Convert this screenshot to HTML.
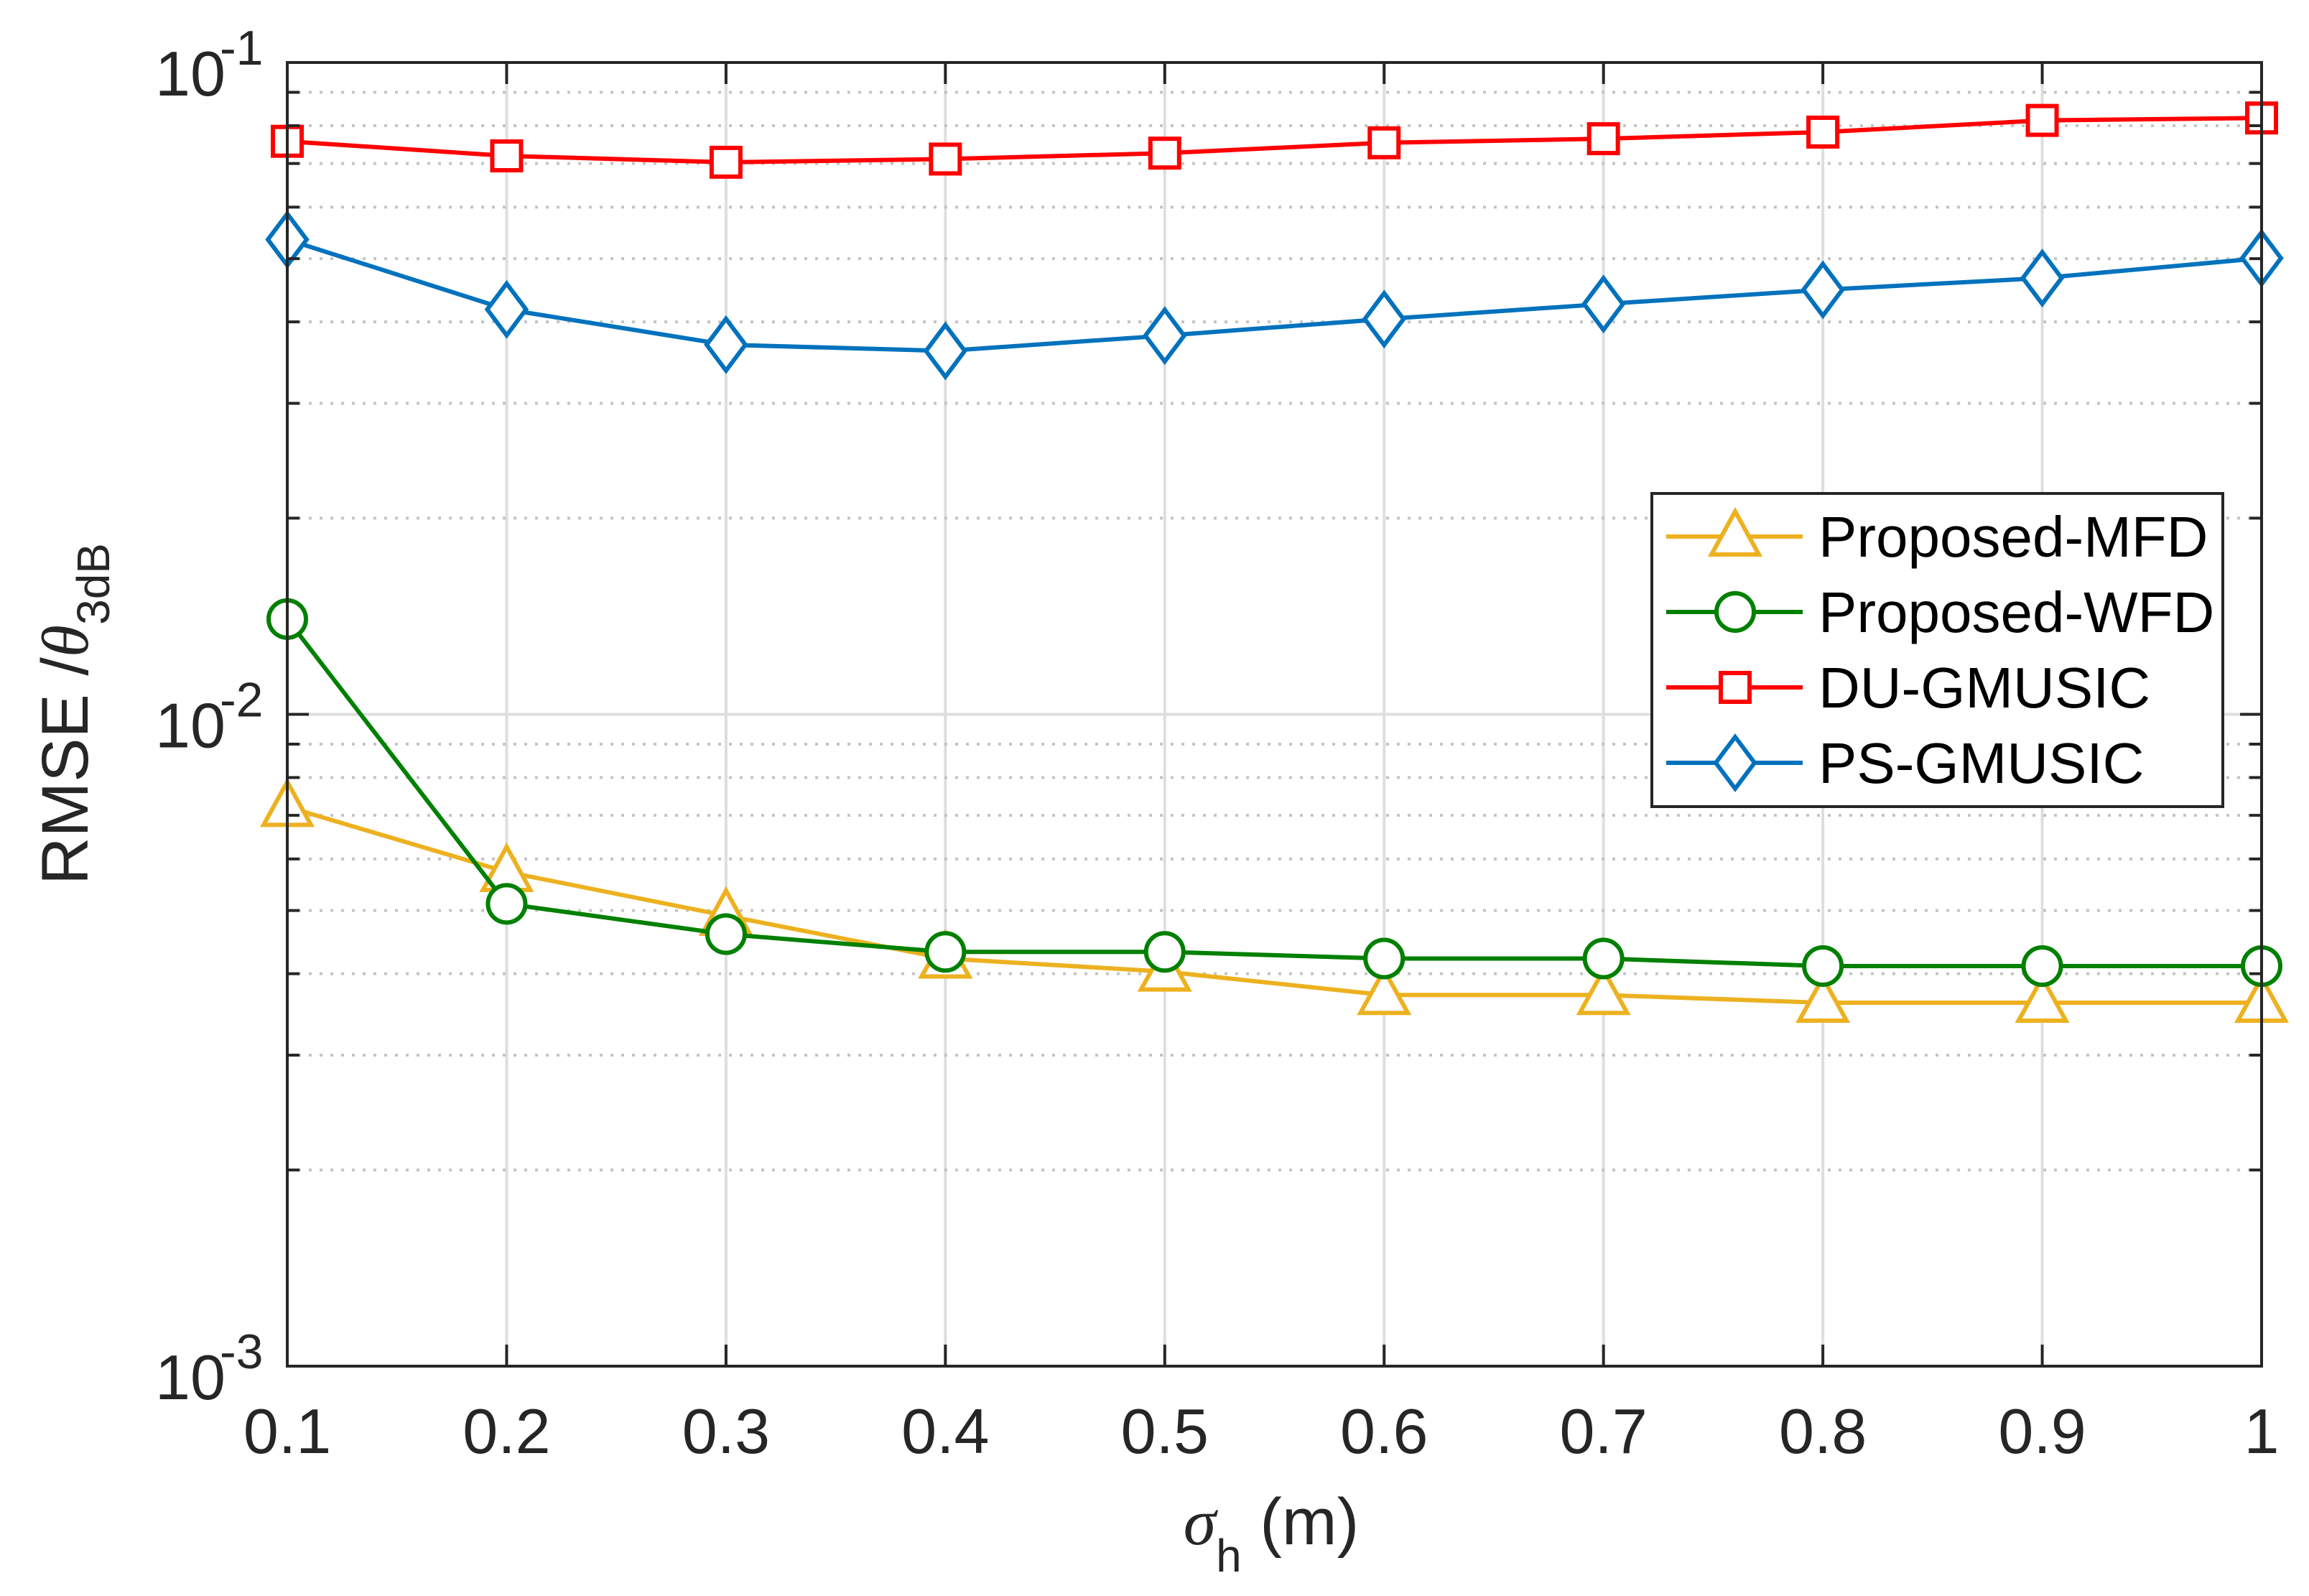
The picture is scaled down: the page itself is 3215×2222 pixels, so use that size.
<!DOCTYPE html>
<html><head><meta charset="utf-8"><style>
html,body{margin:0;padding:0;background:#fff;}
svg{display:block;font-family:"Liberation Sans",sans-serif;}
</style></head><body>
<svg id="chart" width="3215" height="2222" viewBox="0 0 3215 2222" xmlns="http://www.w3.org/2000/svg">
<rect x="0" y="0" width="3215" height="2222" fill="#fff"/>
<g id="grid"></g>
<g id="series"></g>
<g id="axes"></g>
<text x="1770" y="2150" font-size="92" text-anchor="middle" fill="#262626"><tspan font-family="Liberation Serif" font-style="italic">σ</tspan><tspan font-size="64" dy="38">h</tspan><tspan dy="-38"> (m)</tspan></text>
<text transform="translate(122,994) rotate(-90)" font-size="92" text-anchor="middle" fill="#262626">RMSE /<tspan font-family="Liberation Serif" font-style="italic">θ</tspan><tspan font-size="64" dy="30">3dB</tspan></text>
<g id="legend"></g>
</svg>
<script>
const xValues = [0.1,0.2,0.3,0.4,0.5,0.6,0.7,0.8,0.9,1.0];
const xTickLabels = ["0.1","0.2","0.3","0.4","0.5","0.6","0.7","0.8","0.9","1"];
const seriesNames = ["Proposed-MFD","Proposed-WFD","DU-GMUSIC","PS-GMUSIC"];
const mfdValues = [0.00721,0.00573,0.00491,0.00422,0.00403,0.00371,0.00371,0.00361,0.00361,0.00361];
const wfdValues = [0.0140,0.00512,0.00460,0.00432,0.00432,0.00422,0.00422,0.00411,0.00411,0.00411];
const duValues = [0.0757,0.0719,0.0703,0.0711,0.0726,0.0753,0.0764,0.0782,0.0815,0.0822];
const psValues = [0.0535,0.0418,0.0369,0.0361,0.0381,0.0404,0.0426,0.0448,0.0467,0.0501];
const yDecades = [-3,-2,-1];

const NS="http://www.w3.org/2000/svg";
const L=400,R=3149,T=87,B=1902;
const xMin=0.1,xMax=1.0,yLogMin=-3,yLogMax=-1;
function xs(v){return L+(v-xMin)/(xMax-xMin)*(R-L);}
function ys(v){return B-(Math.log10(v)-yLogMin)/(yLogMax-yLogMin)*(B-T);}
function mk(tag,attrs,parent){const e=document.createElementNS(NS,tag);for(const k in attrs)e.setAttribute(k,attrs[k]);parent.appendChild(e);return e;}

const grid=document.getElementById('grid'),axes=document.getElementById('axes'),ser=document.getElementById('series'),leg=document.getElementById('legend');
xValues.forEach((v,i)=>{
  const x=xs(v);
  if(i>0&&i<xValues.length-1){const g=mk('line',{x1:x,x2:x,y1:T,y2:B,stroke:'#dedede','stroke-width':4},grid);
  
  }
  const t1=mk('line',{x1:x,x2:x,y1:B,y2:B-30,stroke:'#262626','stroke-width':4},axes);
  
  
  const t2=mk('line',{x1:x,x2:x,y1:T,y2:T+30,stroke:'#262626','stroke-width':4},axes);
  
  
  const lb=mk('text',{x:x,y:2023,'font-size':88,'text-anchor':'middle',fill:'#262626'},axes);
  lb.textContent=xTickLabels[i];
  
  
});
yDecades.forEach((d,i)=>{
  const y=ys(Math.pow(10,d));
  if(d>yLogMin&&d<yLogMax){const g=mk('line',{x1:L,x2:R,y1:y,y2:y,stroke:'#dedede','stroke-width':4},grid);
  
  }
  [L,R].forEach(xx=>{const t=mk('line',{x1:xx,x2:xx+(xx==L?30:-30),y1:y,y2:y,stroke:'#262626','stroke-width':4},axes);
  
  });
  const lb=mk('text',{x:216,y:y+46,'font-size':88,fill:'#262626'},axes);
  lb.textContent='10';
  
  
  const sp=mk('text',{x:306,y:y+3,'font-size':68,fill:'#262626'},axes);
  sp.textContent=String(d);
  
  
  if(d<yLogMax){for(let m=2;m<=9;m++){const yy=ys(m*Math.pow(10,d));
    const g=mk('line',{x1:L,x2:R,y1:yy,y2:yy,stroke:'#c4c4c4','stroke-width':4,'stroke-dasharray':'4 11'},grid);
    
    
    [L,R].forEach(xx=>{const t=mk('line',{x1:xx,x2:xx+(xx==L?17:-17),y1:yy,y2:yy,stroke:'#262626','stroke-width':4},axes);
    
    });
  }}
});
const box=mk('rect',{x:L,y:T,width:R-L,height:B-T,fill:'none',stroke:'#262626','stroke-width':4},axes);



function marker(type,x,y,color,parent){
  let e;
  if(type==='tri') e=mk('polygon',{points:`${x},${y-35} ${x-33},${y+25} ${x+33},${y+25}`},parent);
  else if(type==='circ') e=mk('ellipse',{cx:x,cy:y,rx:26,ry:26},parent);
  else if(type==='sq') e=mk('rect',{x:x-20,y:y-20,width:40,height:40},parent);
  else e=mk('polygon',{points:`${x},${y-36} ${x+27},${y} ${x},${y+36} ${x-27},${y}`},parent);
  e.setAttribute('fill','#fff');e.setAttribute('stroke',color);e.setAttribute('stroke-width',6);
  return e;
}
const defs=[
  {vals:mfdValues,color:'#EDB120',m:'tri',name:'mfd'},
  {vals:wfdValues,color:'#008000',m:'circ',name:'wfd'},
  {vals:duValues,color:'#FF0000',m:'sq',name:'du-gmusic'},
  {vals:psValues,color:'#0072BD',m:'dia',name:'ps-gmusic'}
];
defs.forEach(s=>{
  const g=mk('g',{},ser);
  
  
  const pts=s.vals.map((v,i)=>xs(xValues[i])+','+ys(v)).join(' ');
  const pl=mk('polyline',{points:pts,fill:'none',stroke:s.color,'stroke-width':6},g);
  
  
  s.vals.forEach((v,i)=>{const e=marker(s.m,xs(xValues[i]),ys(v),s.color,g);
    
    });
});
const lb=mk('rect',{x:2300,y:687,width:795,height:436,fill:'#fff',stroke:'#262626','stroke-width':4},leg);


const rowY=[747,852,957,1062];
defs.forEach((s,i)=>{
  const g=mk('g',{},leg);
  
  
  const y=rowY[i];
  mk('line',{x1:2320,x2:2510,y1:y,y2:y,stroke:s.color,'stroke-width':6},g);
  marker(s.m,2416,y,s.color,g);
  const t=mk('text',{x:2532,y:y+28,'font-size':80,fill:'#000'},g);
  t.textContent=seriesNames[i];
});
</script>
</body></html>
